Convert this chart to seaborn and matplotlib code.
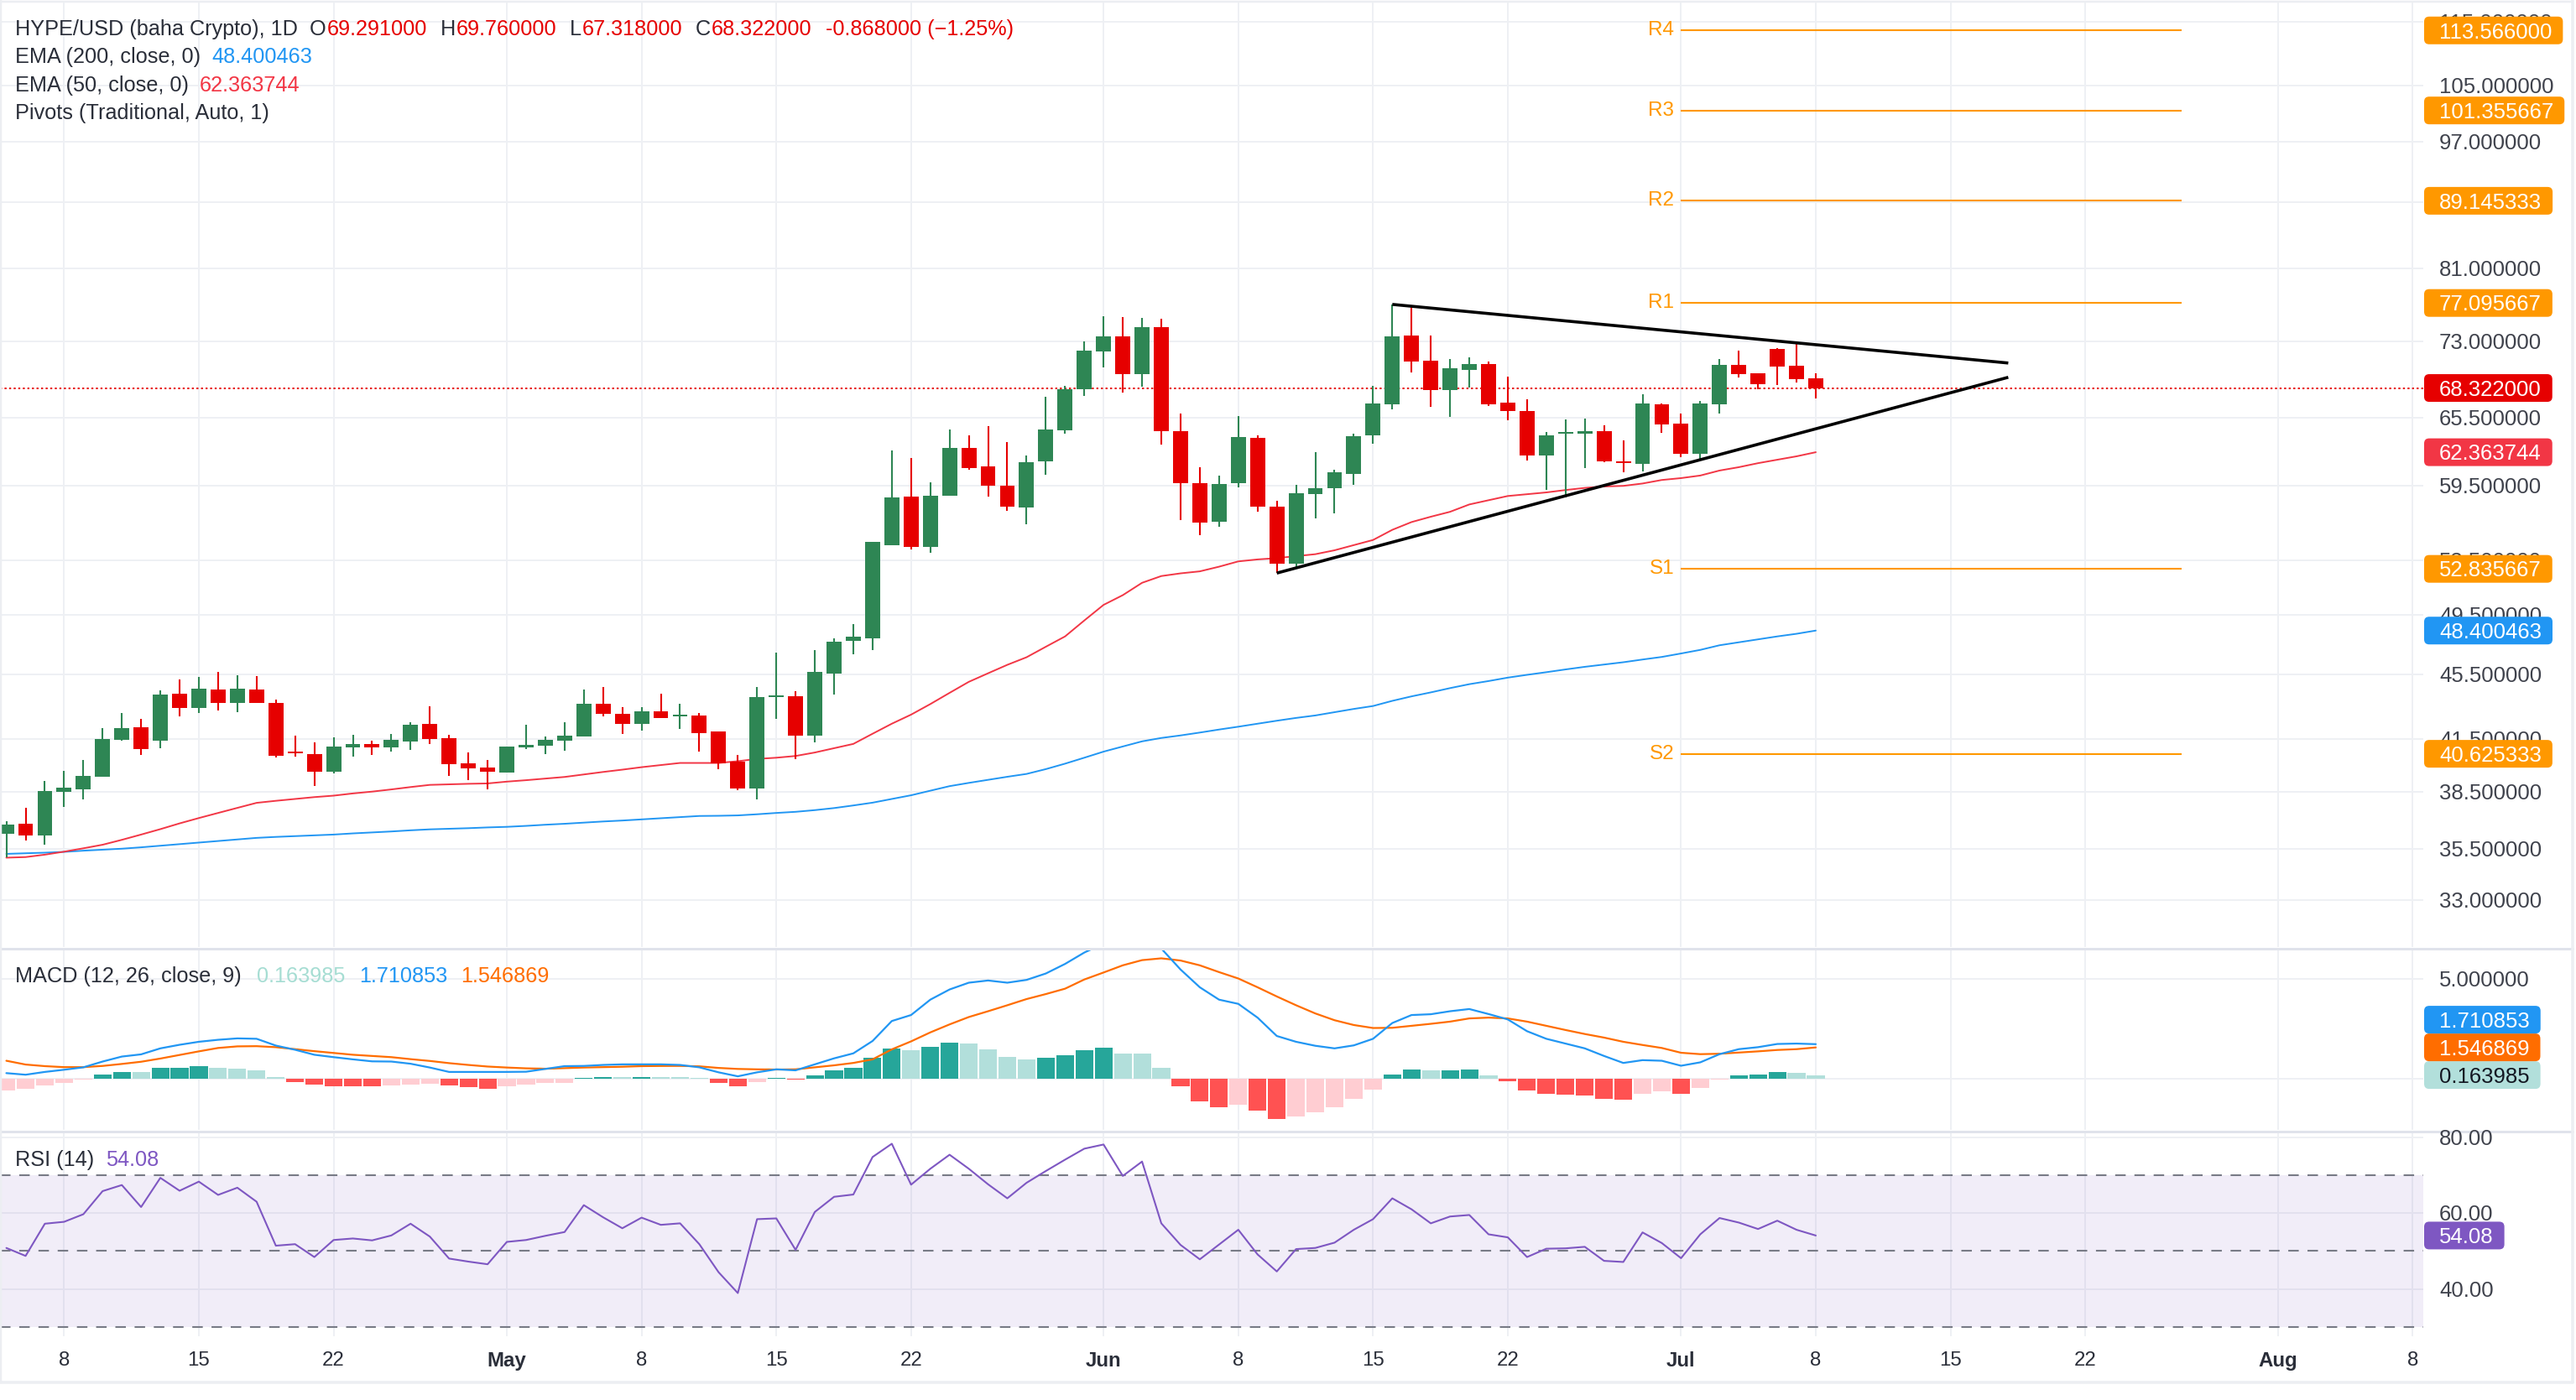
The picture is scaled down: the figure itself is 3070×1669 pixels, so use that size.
import numpy as np
import pandas as pd
import matplotlib
matplotlib.use("Agg")
import matplotlib.pyplot as plt
import seaborn as sns
from matplotlib.patches import FancyBboxPatch
from matplotlib.transforms import IdentityTransform
from matplotlib.ticker import FixedLocator, NullLocator, NullFormatter
from matplotlib.lines import Line2D

# ---------------- DATA ----------------
start_date = "2025-04-05"
symbol_title = "HYPE/USD (baha Crypto), 1D"

opens = [36.27, 36.78, 36.19, 38.50, 38.64, 39.33, 41.43, 42.18, 41.40, 44.24,
         43.37, 44.50, 43.68, 44.50, 43.67, 40.75, 40.60, 39.59, 41.00, 41.17,
         40.99, 41.35, 42.38, 41.53, 40.07, 39.83, 39.56, 41.00, 41.10, 41.40,
         41.64, 43.61, 42.99, 42.40, 43.15, 42.85, 42.89, 41.93, 40.16, 38.68,
         44.05, 44.08, 41.69, 45.54, 47.68, 47.89, 54.67, 58.57, 54.50, 58.60,
         62.75, 61.14, 59.49, 57.62, 61.53, 64.37, 68.24, 72.00, 73.54, 69.71,
         74.48, 64.26, 59.68, 56.48, 59.65, 63.67, 57.72, 53.20, 58.79, 59.22,
         60.50, 63.85, 66.79, 73.61, 71.03, 68.15, 70.10, 70.68, 66.91, 66.13,
         62.04, 63.99, 63.99, 64.26, 61.56, 61.36, 66.76, 64.96, 62.23, 66.76,
         70.61, 69.77, 72.22, 70.52, 69.291]
highs = [36.90, 37.61, 39.08, 39.67, 40.26, 42.13, 43.04, 42.69, 44.45, 45.15,
         45.31, 45.63, 45.42, 45.36, 43.86, 41.68, 41.28, 41.61, 41.73, 41.38,
         41.78, 42.48, 43.44, 41.73, 40.71, 40.26, 41.04, 42.33, 41.63, 42.48,
         44.50, 44.67, 43.41, 43.41, 44.24, 43.61, 43.04, 41.93, 40.55, 44.67,
         46.90, 44.40, 47.07, 47.86, 48.85, 54.87, 62.49, 61.87, 59.73, 64.43,
         63.91, 64.73, 63.27, 62.07, 67.44, 68.55, 72.97, 75.62, 75.58, 75.48,
         75.41, 65.85, 61.06, 60.34, 65.64, 63.88, 58.22, 59.52, 62.38, 60.83,
         64.05, 68.55, 76.90, 76.66, 73.61, 71.16, 71.36, 70.91, 69.43, 67.26,
         64.17, 65.32, 65.44, 64.76, 63.41, 67.72, 66.85, 65.90, 67.08, 71.20,
         72.05, 69.77, 72.31, 72.83, 69.76]
lows = [35.08, 35.93, 35.72, 37.68, 38.09, 39.33, 41.40, 40.55, 40.96, 42.85,
        43.06, 43.21, 43.12, 43.68, 40.43, 40.47, 38.82, 39.51, 40.47, 40.55,
        40.77, 40.86, 41.20, 39.36, 39.13, 38.64, 39.56, 40.91, 40.60, 40.80,
        41.64, 42.84, 41.79, 42.00, 42.76, 42.09, 40.77, 39.75, 38.59, 38.09,
        42.71, 40.33, 41.30, 44.21, 46.82, 47.06, 54.67, 54.32, 54.08, 58.60,
        60.83, 58.57, 57.39, 56.27, 60.36, 63.99, 67.53, 70.36, 67.84, 68.46,
        63.01, 56.66, 55.45, 56.07, 59.30, 57.28, 52.55, 52.86, 56.79, 57.18,
        59.54, 63.15, 66.31, 69.87, 66.52, 65.61, 68.36, 66.58, 65.23, 61.62,
        59.11, 58.49, 61.00, 61.50, 60.58, 60.67, 64.14, 61.93, 61.76, 65.92,
        69.36, 68.21, 68.62, 68.86, 67.318]
closes = [36.74, 36.19, 38.51, 38.71, 39.36, 41.48, 42.13, 40.91, 44.19, 43.37,
          44.56, 43.68, 44.56, 43.68, 40.50, 40.67, 39.61, 41.04, 41.18, 41.00,
          41.43, 42.33, 41.48, 40.04, 39.80, 39.61, 41.04, 41.14, 41.43, 41.68,
          43.61, 43.01, 42.40, 43.15, 42.76, 42.94, 41.84, 40.08, 38.68, 44.03,
          44.13, 41.69, 45.63, 47.63, 47.96, 54.87, 58.49, 54.50, 58.62, 62.75,
          61.00, 59.44, 57.70, 61.50, 64.43, 68.24, 72.05, 73.54, 69.65, 74.48,
          64.29, 59.65, 56.40, 59.60, 63.73, 57.70, 53.20, 58.85, 59.28, 60.61,
          63.82, 66.85, 73.54, 70.97, 68.15, 70.26, 70.68, 66.76, 66.16, 62.04,
          63.88, 64.08, 64.26, 61.59, 61.39, 66.85, 64.90, 62.23, 66.84, 70.61,
          69.69, 68.70, 70.44, 69.19, 68.322]

ema50 = [35.05, 35.08, 35.20, 35.35, 35.52, 35.70, 35.95, 36.22, 36.50, 36.80,
         37.08, 37.35, 37.62, 37.89, 38.00, 38.10, 38.20, 38.28, 38.40, 38.50,
         38.62, 38.75, 38.87, 38.90, 38.93, 38.95, 39.05, 39.13, 39.22, 39.31,
         39.45, 39.59, 39.72, 39.86, 39.98, 40.10, 40.10, 40.10, 40.20, 40.33,
         40.40, 40.50, 40.70, 40.95, 41.20, 41.80, 42.40, 42.95, 43.60, 44.30,
         45.00, 45.55, 46.10, 46.60, 47.30, 48.00, 49.10, 50.20, 50.90, 51.80,
         52.30, 52.50, 52.65, 53.00, 53.40, 53.55, 53.65, 53.80, 53.95, 54.25,
         54.65, 55.05, 55.85, 56.47, 56.90, 57.30, 57.90, 58.25, 58.60, 58.75,
         58.90, 59.10, 59.28, 59.40, 59.45, 59.65, 59.95, 60.11, 60.33, 60.76,
         61.05, 61.40, 61.70, 62.00, 62.363744]
ema200 = [35.24, 35.27, 35.30, 35.34, 35.40, 35.45, 35.50, 35.57, 35.65, 35.73,
          35.81, 35.89, 35.97, 36.05, 36.10, 36.14, 36.18, 36.22, 36.28, 36.33,
          36.38, 36.44, 36.49, 36.52, 36.55, 36.59, 36.62, 36.67, 36.73, 36.78,
          36.84, 36.90, 36.95, 37.01, 37.07, 37.13, 37.19, 37.20, 37.22, 37.28,
          37.35, 37.41, 37.50, 37.61, 37.75, 37.90, 38.10, 38.30, 38.55, 38.80,
          38.98, 39.15, 39.32, 39.48, 39.75, 40.06, 40.40, 40.75, 41.05, 41.35,
          41.55, 41.70, 41.87, 42.05, 42.22, 42.40, 42.58, 42.75, 42.90, 43.10,
          43.30, 43.48, 43.80, 44.08, 44.33, 44.60, 44.85, 45.05, 45.27, 45.45,
          45.62, 45.80, 45.97, 46.12, 46.27, 46.45, 46.62, 46.85, 47.09, 47.40,
          47.60, 47.80, 48.00, 48.18, 48.400463]

macd_line = [0.26, 0.18, 0.32, 0.43, 0.55, 0.84, 1.09, 1.20, 1.50, 1.68,
             1.83, 1.93, 2.00, 1.98, 1.64, 1.43, 1.18, 1.06, 0.95, 0.85,
             0.84, 0.73, 0.54, 0.32, 0.32, 0.32, 0.32, 0.33, 0.47, 0.61,
             0.62, 0.67, 0.70, 0.70, 0.70, 0.67, 0.55, 0.30, 0.10, 0.30,
             0.45, 0.40, 0.70, 1.00, 1.25, 1.87, 2.87, 3.17, 3.94, 4.45,
             4.79, 4.90, 4.79, 4.93, 5.25, 5.73, 6.30, 6.75, 6.85, 7.10,
             6.50, 5.45, 4.56, 3.94, 3.73, 3.04, 2.12, 1.83, 1.63, 1.50,
             1.65, 1.98, 2.77, 3.17, 3.21, 3.36, 3.47, 3.22, 2.95, 2.36,
             1.98, 1.74, 1.50, 1.12, 0.77, 0.91, 0.88, 0.63, 0.80, 1.21,
             1.46, 1.56, 1.72, 1.74, 1.710853]
signal_line = [0.88, 0.69, 0.61, 0.56, 0.56, 0.62, 0.72, 0.83, 0.99, 1.17,
               1.35, 1.52, 1.60, 1.61, 1.56, 1.46, 1.36, 1.27, 1.18, 1.12,
               1.06, 0.96, 0.87, 0.76, 0.67, 0.59, 0.54, 0.50, 0.48, 0.51,
               0.54, 0.56, 0.58, 0.61, 0.62, 0.62, 0.60, 0.52, 0.47, 0.45,
               0.44, 0.45, 0.55, 0.65, 0.77, 0.95, 1.45, 1.85, 2.30, 2.70,
               3.07, 3.36, 3.66, 3.97, 4.22, 4.49, 4.95, 5.30, 5.66, 5.92,
               6.01, 5.90, 5.66, 5.32, 5.00, 4.56, 4.10, 3.66, 3.25, 2.91,
               2.67, 2.52, 2.53, 2.63, 2.73, 2.84, 3.00, 3.04, 3.00, 2.84,
               2.63, 2.42, 2.22, 2.04, 1.83, 1.67, 1.52, 1.28, 1.21, 1.23,
               1.29, 1.35, 1.42, 1.46, 1.546869]
macd_hist = [-0.62, -0.54, -0.37, -0.21, -0.08, 0.19, 0.32, 0.31, 0.52, 0.53,
             0.61, 0.52, 0.48, 0.40, 0.07, -0.17, -0.33, -0.39, -0.41, -0.42,
             -0.37, -0.30, -0.29, -0.37, -0.45, -0.51, -0.41, -0.33, -0.25, -0.21,
             0.04, 0.08, 0.075, 0.08, 0.07, 0.065, 0.04, -0.21, -0.41, -0.17,
             0.04, -0.08, 0.15, 0.40, 0.51, 1.01, 1.50, 1.42, 1.58, 1.79,
             1.75, 1.46, 1.09, 0.96, 1.01, 1.17, 1.42, 1.54, 1.25, 1.24,
             0.51, -0.39, -1.17, -1.46, -1.34, -1.63, -2.04, -1.91, -1.71, -1.46,
             -1.05, -0.55, 0.18, 0.43, 0.39, 0.42, 0.43, 0.14, -0.14, -0.59,
             -0.76, -0.84, -0.88, -1.01, -1.09, -0.76, -0.67, -0.76, -0.47, -0.06,
             0.14, 0.18, 0.30, 0.26, 0.163985]
hist_before_first = -0.70

rsi = [50.8, 48.7, 57.2, 57.7, 59.7, 65.8, 67.4, 61.6, 69.3, 65.9,
       68.3, 64.8, 66.7, 63.0, 51.4, 51.8, 48.4, 52.9, 53.3, 52.8,
       54.1, 57.2, 53.8, 48.0, 47.2, 46.5, 52.4, 52.9, 54.0, 55.0,
       62.1, 58.9, 56.0, 58.8, 56.9, 57.3, 51.8, 44.4, 38.9, 58.4,
       58.6, 50.3, 60.3, 64.3, 64.9, 74.8, 78.3, 67.5, 71.7, 75.4,
       71.7, 67.6, 63.9, 68.0, 71.1, 74.1, 77.0, 78.1, 69.8, 73.6,
       57.3, 51.6, 47.8, 51.7, 55.6, 49.1, 44.6, 50.5, 50.8, 52.2,
       55.6, 58.4, 63.9, 61.0, 57.3, 59.1, 59.5, 54.4, 53.6, 48.4,
       50.6, 50.7, 51.1, 47.4, 47.1, 54.9, 52.1, 48.1, 54.4, 58.7,
       57.5, 55.8, 58.0, 55.6, 54.08]

pivot_names = ["R4", "R3", "R2", "R1", "S1", "S2"]
pivot_values = [113.566, 101.355667, 89.145333, 77.095667, 52.835667, 40.625333]
pivot_start = "2025-07-01"
pivot_end = "2025-07-27"

# triangle (trend lines drawn on chart)
tri_upper_dates = ["2025-06-16", "2025-07-18"]
tri_upper_prices = [76.94, 70.79]
tri_lower_dates = ["2025-06-10", "2025-07-18"]
tri_lower_prices = [52.52, 69.37]

tick_dates = ["2025-04-08", "2025-04-15", "2025-04-22", "2025-05-01", "2025-05-08",
              "2025-05-15", "2025-05-22", "2025-06-01", "2025-06-08", "2025-06-15",
              "2025-06-22", "2025-07-01", "2025-07-08", "2025-07-15", "2025-07-22",
              "2025-08-01", "2025-08-08"]
tick_labels = ["8", "15", "22", "May", "8", "15", "22", "Jun", "8", "15", "22",
               "Jul", "8", "15", "22", "Aug", "8"]

price_ticks = [115, 105, 97, 89, 81, 73, 65.5, 59.5, 53.5, 49.5, 45.5, 41.5, 38.5, 35.5, 33]
macd_ticks = [5.0, 0.0]
rsi_ticks = [80, 60, 40]
rsi_levels = [70, 50, 30]

# ---------------- STYLE ----------------
sns.set_theme(style="white")
plt.rcParams['font.family'] = ['Liberation Sans', 'DejaVu Sans']

GREEN = "#2e8654"
RED = "#e60000"
EMA50_C = "#f23645"
EMA200_C = "#2196f3"
PIVOT_C = "#ff9800"
GRID_C = "#eef0f4"
SEP_C = "#e0e3eb"
DARK = "#2a2e39"
AXTXT = "#3f424c"
MACD_C = "#2196f3"
SIG_C = "#ff6d00"
RSI_C = "#7e57c2"

W, H = 3070, 1669
fig = plt.figure(figsize=(W / 100, H / 100), dpi=100)
fig.patch.set_facecolor("white")


def px_axes(left, top, right, bottom):
    return fig.add_axes([left / W, 1 - bottom / H, (right - left) / W, (bottom - top) / H])


ax_p = px_axes(0, 2, 2888, 1129)
ax_m = px_axes(0, 1132, 2888, 1347)
ax_r = px_axes(0, 1350, 2888, 1593)

start = pd.Timestamp(start_date)


def dx(s):
    return (pd.Timestamp(s) - start).days


n = len(closes)
df = pd.DataFrame({
    "x": np.arange(n),
    "open": opens, "high": highs, "low": lows, "close": closes,
    "ema50": ema50, "ema200": ema200,
    "macd": macd_line, "signal": signal_line, "hist": macd_hist, "rsi": rsi,
})

x_left = dx(start_date) - 0.33
x_right = dx("2025-08-08") + 0.56
tick_x = [dx(d) for d in tick_dates]

for ax in (ax_p, ax_m, ax_r):
    ax.set_facecolor("white")
    for sp in ax.spines.values():
        sp.set_visible(False)
    ax.set_xlim(x_left, x_right)
    ax.xaxis.set_major_locator(FixedLocator(tick_x))
    ax.xaxis.set_minor_locator(NullLocator())
    ax.grid(True, which="major", color=GRID_C, lw=1.4, zorder=0)
    ax.set_axisbelow(True)
    ax.tick_params(left=False, right=False, labelleft=False, labelright=False,
                   bottom=False, labelbottom=False)

# ---- price pane ----
ax_p.set_yscale("log")
ax_p.set_ylim(30.87, 118.3)
ax_p.yaxis.set_major_locator(FixedLocator(price_ticks))
ax_p.yaxis.set_minor_locator(NullLocator())
ax_p.yaxis.set_major_formatter(NullFormatter())
ax_p.yaxis.set_minor_formatter(NullFormatter())

up = df["close"] >= df["open"]
ccol = np.where(up, GREEN, RED)
ax_p.vlines(df["x"], df["low"], df["high"], colors=ccol, lw=1.5, zorder=4)
body_lo = np.minimum(df["open"], df["close"])
body_h = np.maximum((df["close"] - df["open"]).abs(), body_lo * 0.0025)
ax_p.bar(df["x"], body_h, bottom=body_lo, width=0.78, color=ccol, linewidth=0, zorder=5)

sns.lineplot(data=df, x="x", y="ema200", ax=ax_p, color=EMA200_C, lw=1.4, zorder=3)
sns.lineplot(data=df, x="x", y="ema50", ax=ax_p, color=EMA50_C, lw=1.4, zorder=3)

ax_p.axhline(closes[-1], color=RED, lw=1.4, ls=(0, (1.2, 1.6)), zorder=2)

ps, pe = dx(pivot_start), dx(pivot_end)
for name, val in zip(pivot_names, pivot_values):
    ax_p.hlines(val, ps, pe, color=PIVOT_C, lw=1.5, zorder=3)
    ax_p.text(ps - 0.35, val, name, ha="right", va="center", color=PIVOT_C,
              fontsize=17.5, zorder=6)

ax_p.plot([dx(d) for d in tri_upper_dates], tri_upper_prices, color="black", lw=2.6,
          solid_capstyle="butt", zorder=7)
ax_p.plot([dx(d) for d in tri_lower_dates], tri_lower_prices, color="black", lw=2.6,
          solid_capstyle="butt", zorder=7)
ax_p.set_xlabel("")
ax_p.set_ylabel("")

# ---- MACD pane ----
ax_m.set_ylim(-2.584, 6.45)
ax_m.yaxis.set_major_locator(FixedLocator(macd_ticks))
ax_m.yaxis.set_major_formatter(NullFormatter())
hist = np.array(macd_hist)
prev = np.concatenate([[hist_before_first], hist[:-1]])
hcol = np.where(hist >= 0,
                np.where(hist > prev, "#26a69a", "#b2dfdb"),
                np.where(hist < prev, "#ff5252", "#ffcdd2"))
ax_m.bar(df["x"], hist, width=0.92, color=hcol, linewidth=0, zorder=2)
sns.lineplot(data=df, x="x", y="signal", ax=ax_m, color=SIG_C, lw=1.6, zorder=3)
sns.lineplot(data=df, x="x", y="macd", ax=ax_m, color=MACD_C, lw=1.6, zorder=4)
ax_m.set_xlabel("")
ax_m.set_ylabel("")

# ---- RSI pane ----
ax_r.set_ylim(27.5, 81.29)
ax_r.yaxis.set_major_locator(FixedLocator(rsi_ticks))
ax_r.yaxis.set_major_formatter(NullFormatter())
ax_r.axhspan(rsi_levels[-1], rsi_levels[0], color=RSI_C, alpha=0.1, lw=0, zorder=1)
for lv in rsi_levels:
    ax_r.axhline(lv, color="#787b86", lw=1.5, ls=(0, (6, 5)), zorder=2)
sns.lineplot(data=df, x="x", y="rsi", ax=ax_r, color=RSI_C, lw=1.5, zorder=3)
ax_r.set_xlabel("")
ax_r.set_ylabel("")
ax_r.tick_params(axis="x", bottom=False, labelbottom=True, length=0, pad=13,
                 labelsize=17.3, labelcolor=DARK)
ax_r.set_xticks(tick_x)
ax_r.set_xticklabels(tick_labels)
for lbl, txt in zip(ax_r.get_xticklabels(), tick_labels):
    if not txt.isdigit():
        lbl.set_fontweight("bold")

# ---- frame lines ----
def hline_px(y, x0, x1, lw=3, color=SEP_C):
    fig.add_artist(Line2D([x0, x1], [H - y, H - y], transform=IdentityTransform(),
                          color=color, lw=lw * 0.72, zorder=8))


def vline_px(x, y0, y1, lw=3, color=SEP_C):
    fig.add_artist(Line2D([x, x], [H - y0, H - y1], transform=IdentityTransform(),
                          color=color, lw=lw * 0.72, zorder=8))


hline_px(1130.5, 0, 3066)
hline_px(1348.5, 0, 3066)
hline_px(1.5, 0, 3066, lw=2.5, color="#eceef2")
hline_px(1648, 0, 3066, lw=3.5, color="#eceef2")
vline_px(3066, 0, 1648, lw=3.5, color="#eceef2")
vline_px(1, 0, 1648, lw=2.5, color="#eceef2")

renderer = fig.canvas.get_renderer()
AX_FS = 18.5
EM = AX_FS * 100 / 72.0
LABEL_X = 2907
BOX_X = 2889
BOX_H = 33


def ydisp(ax, val):
    return ax.transData.transform((0, val))[1]


def axis_text(y, txt, color=AXTXT, z=9):
    fig.text(LABEL_X, y - 0.36 * EM, txt, transform=IdentityTransform(), ha="left",
             va="baseline", fontsize=AX_FS, color=color, zorder=z)


def value_box(y, txt, bg, fg="white"):
    t = fig.text(LABEL_X, y - 0.36 * EM, txt, transform=IdentityTransform(), ha="left",
                 va="baseline", fontsize=AX_FS, color=fg, zorder=11)
    bb = t.get_window_extent(renderer)
    patch = FancyBboxPatch((BOX_X, y - BOX_H / 2), bb.x1 + 13 - BOX_X, BOX_H,
                           boxstyle="round,pad=0,rounding_size=6",
                           transform=IdentityTransform(), fc=bg, ec="none", zorder=10)
    fig.add_artist(patch)


def stacked_boxes(ax, items):
    # items: (value, text, bg, fg); push boxes apart to avoid overlap
    ys = [(ydisp(ax, v), t, bg, fg) for v, t, bg, fg in items]
    ys.sort(key=lambda r: r[0])
    last = -1e9
    for y, t, bg, fg in ys:
        if y < last + BOX_H:
            y = last + BOX_H
        value_box(y, t, bg, fg)
        last = y


for tv in price_ticks:
    axis_text(ydisp(ax_p, tv), f"{tv:.6f}")
for tv in macd_ticks:
    axis_text(ydisp(ax_m, tv), f"{tv:.6f}")
for tv in rsi_ticks:
    axis_text(ydisp(ax_r, tv), f"{tv:.2f}")

main_items = [(v, f"{v:.6f}", PIVOT_C, "white") for v in pivot_values]
main_items += [(closes[-1], f"{closes[-1]:.6f}", RED, "white"),
               (ema50[-1], f"{ema50[-1]:.6f}", EMA50_C, "white"),
               (ema200[-1], f"{ema200[-1]:.6f}", EMA200_C, "white")]
stacked_boxes(ax_p, main_items)
stacked_boxes(ax_m, [(macd_line[-1], f"{macd_line[-1]:.6f}", MACD_C, "white"),
                     (signal_line[-1], f"{signal_line[-1]:.6f}", SIG_C, "white"),
                     (macd_hist[-1], f"{macd_hist[-1]:.6f}", "#b2dfdb", "#131722")])
stacked_boxes(ax_r, [(rsi[-1], f"{rsi[-1]:.2f}", RSI_C, "white")])

# ---- legends ----
LEG_FS = 18.2


def chain(x, ybase_top, parts):
    for txt, col, gap in parts:
        x += gap
        t = fig.text(x, H - ybase_top, txt, transform=IdentityTransform(), ha="left",
                     va="baseline", fontsize=LEG_FS, color=col, zorder=12)
        x = t.get_window_extent(renderer).x1


chg = closes[-1] - closes[-2]
pct = chg / closes[-2] * 100
chg_txt = f"{chg:.6f} ({pct:.2f}%)".replace("(-", "(\u2212")
chain(18, 41.5, [(symbol_title, DARK, 0), ("O", DARK, 14), (f"{opens[-1]:.6f}", RED, 1),
                 ("H", DARK, 16), (f"{highs[-1]:.6f}", RED, 1),
                 ("L", DARK, 15), (f"{lows[-1]:.6f}", RED, 1),
                 ("C", DARK, 15), (f"{closes[-1]:.6f}", RED, 1),
                 (chg_txt, RED, 17)])
chain(18, 75, [("EMA (200, close, 0)", DARK, 0), (f"{ema200[-1]:.6f}", EMA200_C, 13)])
chain(18, 108.5, [("EMA (50, close, 0)", DARK, 0), (f"{ema50[-1]:.6f}", EMA50_C, 13)])
chain(18, 142, [("Pivots (Traditional, Auto, 1)", DARK, 0)])
chain(18, 1171, [("MACD (12, 26, close, 9)", DARK, 0),
                 (f"{macd_hist[-1]:.6f}", "#a6ddd3", 18),
                 (f"{macd_line[-1]:.6f}", MACD_C, 17),
                 (f"{signal_line[-1]:.6f}", SIG_C, 16)])
chain(18, 1390, [("RSI (14)", DARK, 0), (f"{rsi[-1]:.2f}", RSI_C, 14)])

fig.savefig("out.png", dpi=100, facecolor="white")
